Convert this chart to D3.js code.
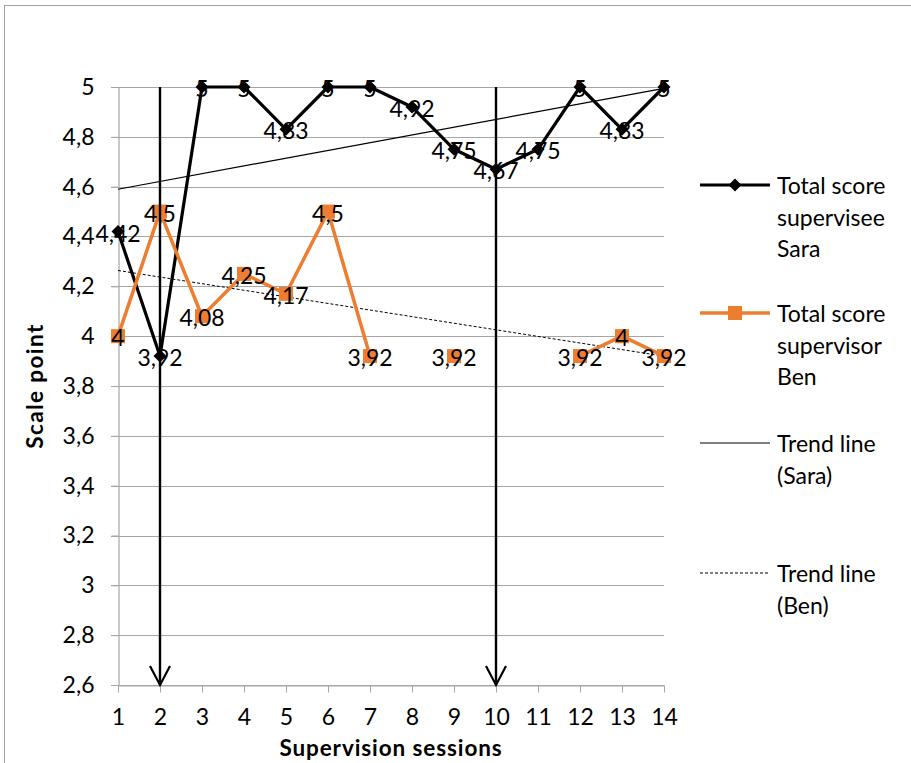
<!DOCTYPE html>
<html>
<head>
<meta charset="utf-8">
<script src="https://cdn.jsdelivr.net/npm/d3@7"></script>
<style>
  html, body { margin: 0; padding: 0; background: #fff; }
  svg { display: block; font-family: Lato, "Open Sans", sans-serif; }
</style>
</head>
<body>
<svg id="chart" width="911" height="763"></svg>
<script>
// Supervision sessions on the x axis
const sessions = [1, 2, 3, 4, 5, 6, 7, 8, 9, 10, 11, 12, 13, 14];
// Total score given by the supervisee (Sara) per session
const saraScores = [4.42, 3.92, 5, 5, 4.83, 5, 5, 4.92, 4.75, 4.67, 4.75, 5, 4.83, 5];
// Total score given by the supervisor (Ben); null = no score recorded
const benScores = [4, 4.5, 4.08, 4.25, 4.17, 4.5, 3.92, null, 3.92, null, null, 3.92, 4, 3.92];
// Y axis tick values
const yTicks = [2.6, 2.8, 3, 3.2, 3.4, 3.6, 3.8, 4, 4.2, 4.4, 4.6, 4.8, 5];
// Sessions marked with a downward arrow
const markedSessions = [2, 10];

const saraColor = "#000000";
const benColor = "#ED7D31";
const gridColor = "#a6a6a6";
const fmt = v => String(v).replace(".", ",");

const svg = d3.select("#chart");

// outer frame
svg.append("rect")
  .attr("x", 4.5).attr("y", 5.5)
  .attr("width", 1000).attr("height", 1000)
  .attr("fill", "none").attr("stroke", "#a0a0a0").attr("stroke-width", 1);

const x = d3.scaleLinear().domain([1, 14]).range([118, 664]);
const y = d3.scaleLinear().domain([2.6, 5]).range([685, 87]);

// horizontal gridlines
svg.append("g")
  .selectAll("line")
  .data(yTicks)
  .join("line")
  .attr("x1", x(1) - 7).attr("x2", x(14))
  .attr("y1", d => Math.round(y(d)) + 0.5).attr("y2", d => Math.round(y(d)) + 0.5)
  .attr("stroke", gridColor).attr("stroke-width", 1.2);

// y axis
const yAxis = svg.append("g")
  .attr("transform", `translate(${Math.round(x(1)) + 0.5},0)`)
  .call(d3.axisLeft(y).tickValues(yTicks).tickFormat(fmt).tickSize(7).tickPadding(17));
yAxis.select(".domain").attr("stroke", gridColor).attr("stroke-width", 1.2);
yAxis.selectAll(".tick line").attr("stroke", gridColor);
yAxis.selectAll(".tick text")
  .attr("font-family", "Lato, 'Open Sans', sans-serif")
  .attr("font-size", 23).attr("fill", "#000");

// x axis
const xAxis = svg.append("g")
  .attr("transform", `translate(0,${Math.round(y(2.6)) + 0.5})`)
  .call(d3.axisBottom(x).tickValues(sessions).tickFormat(d3.format("d")).tickSize(7).tickSizeOuter(0).tickPadding(16));
xAxis.select(".domain").attr("stroke", gridColor).attr("stroke-width", 1.2);
xAxis.selectAll(".tick line").attr("stroke", gridColor);
xAxis.selectAll(".tick text")
  .attr("font-family", "Lato, 'Open Sans', sans-serif")
  .attr("font-size", 23).attr("fill", "#000");

// axis titles
svg.append("text")
  .attr("x", (x(1) + x(14)) / 2).attr("y", 747)
  .attr("text-anchor", "middle").attr("dominant-baseline", "central")
  .attr("font-weight", "bold").attr("font-size", 22.5)
  .attr("letter-spacing", 0.9)
  .text("Supervision sessions");
svg.append("text")
  .attr("transform", `translate(34,${(y(2.6) + y(5)) / 2}) rotate(-90)`)
  .attr("text-anchor", "middle").attr("dominant-baseline", "central")
  .attr("font-weight", "bold").attr("font-size", 22.5)
  .attr("letter-spacing", 1.4)
  .text("Scale point");

// least-squares trend line over the sessions that have a score
function trend(values) {
  const pts = sessions.map((s, i) => [s, values[i]]).filter(p => p[1] != null);
  const mx = d3.mean(pts, p => p[0]);
  const my = d3.mean(pts, p => p[1]);
  const slope = d3.sum(pts, p => (p[0] - mx) * (p[1] - my)) / d3.sum(pts, p => (p[0] - mx) ** 2);
  const f = s => my + slope * (s - mx);
  return [[sessions[0], f(sessions[0])], [sessions[sessions.length - 1], f(sessions[sessions.length - 1])]];
}
const trendLine = d3.line().x(d => x(d[0])).y(d => y(d[1]));
svg.append("path")
  .attr("d", trendLine(trend(saraScores)))
  .attr("fill", "none").attr("stroke", "#000").attr("stroke-width", 1.2);
svg.append("path")
  .attr("d", trendLine(trend(benScores)))
  .attr("fill", "none").attr("stroke", "#000").attr("stroke-width", 1)
  .attr("stroke-dasharray", "3,2");

// series lines
const seriesLine = d3.line()
  .defined(d => d[1] != null)
  .x(d => x(d[0])).y(d => y(d[1]));
const saraPts = sessions.map((s, i) => [s, saraScores[i]]);
const benPts = sessions.map((s, i) => [s, benScores[i]]);

svg.append("path")
  .attr("d", seriesLine(saraPts))
  .attr("fill", "none").attr("stroke", saraColor).attr("stroke-width", 3.2)
  .attr("stroke-linejoin", "round");
svg.append("g")
  .selectAll("path")
  .data(saraPts)
  .join("path")
  .attr("transform", d => `translate(${x(d[0])},${y(d[1])})`)
  .attr("d", "M0,-6.5L6.5,0L0,6.5L-6.5,0Z")
  .attr("fill", saraColor);

svg.append("path")
  .attr("d", seriesLine(benPts))
  .attr("fill", "none").attr("stroke", benColor).attr("stroke-width", 3.5)
  .attr("stroke-linejoin", "round");
svg.append("g")
  .selectAll("rect")
  .data(benPts.filter(d => d[1] != null))
  .join("rect")
  .attr("x", d => x(d[0]) - 7).attr("y", d => y(d[1]) - 7)
  .attr("width", 14).attr("height", 14)
  .attr("fill", benColor);

// data labels, centred on each point
const labelG = svg.append("g")
  .attr("font-size", 23).attr("fill", "#000")
  .attr("text-anchor", "middle").attr("dominant-baseline", "central");
labelG.selectAll("text.sara")
  .data(saraPts)
  .join("text").attr("class", "sara")
  .attr("x", d => x(d[0])).attr("y", d => y(d[1]) + 1)
  .text(d => fmt(d[1]));
labelG.selectAll("text.ben")
  .data(benPts.filter(d => d[1] != null))
  .join("text").attr("class", "ben")
  .attr("x", d => x(d[0])).attr("y", d => y(d[1]) + 1)
  .text(d => fmt(d[1]));

// downward arrows at the marked sessions
const arrows = svg.append("g").attr("stroke", "#000").attr("fill", "none");
markedSessions.forEach(s => {
  const ax = x(s);
  arrows.append("line")
    .attr("x1", ax).attr("x2", ax)
    .attr("y1", y(5)).attr("y2", y(2.6))
    .attr("stroke-width", 2.4);
  arrows.append("path")
    .attr("d", `M${ax - 10},${y(2.6) - 19}L${ax},${y(2.6)}L${ax + 10},${y(2.6) - 19}`)
    .attr("stroke-width", 2.2);
});

// legend
const legend = [
  { lines: ["Total score", "supervisee", "Sara"], y: 185, color: saraColor, width: 3.2, marker: "diamond" },
  { lines: ["Total score", "supervisor", "Ben"], y: 313, color: benColor, width: 3.5, marker: "square" },
  { lines: ["Trend line", "(Sara)"], y: 443, color: "#000", width: 1.2, marker: null },
  { lines: ["Trend line", "(Ben)"], y: 573, color: "#000", width: 1, marker: null, dash: "3,2" }
];
const lg = svg.append("g");
legend.forEach(item => {
  lg.append("line")
    .attr("x1", 700).attr("x2", 770)
    .attr("y1", item.y).attr("y2", item.y)
    .attr("stroke", item.color).attr("stroke-width", item.width)
    .attr("stroke-dasharray", item.dash || null);
  if (item.marker === "diamond") {
    lg.append("path")
      .attr("transform", `translate(735,${item.y})`)
      .attr("d", "M0,-6.5L6.5,0L0,6.5L-6.5,0Z")
      .attr("fill", item.color);
  } else if (item.marker === "square") {
    lg.append("rect")
      .attr("x", 728).attr("y", item.y - 7)
      .attr("width", 14).attr("height", 14)
      .attr("fill", item.color);
  }
  item.lines.forEach((t, i) => {
    lg.append("text")
      .attr("x", 777).attr("y", item.y + i * 31.5)
      .attr("dominant-baseline", "central")
      .attr("font-size", 23).attr("fill", "#000")
      .text(t);
  });
});
</script>
</body>
</html>
